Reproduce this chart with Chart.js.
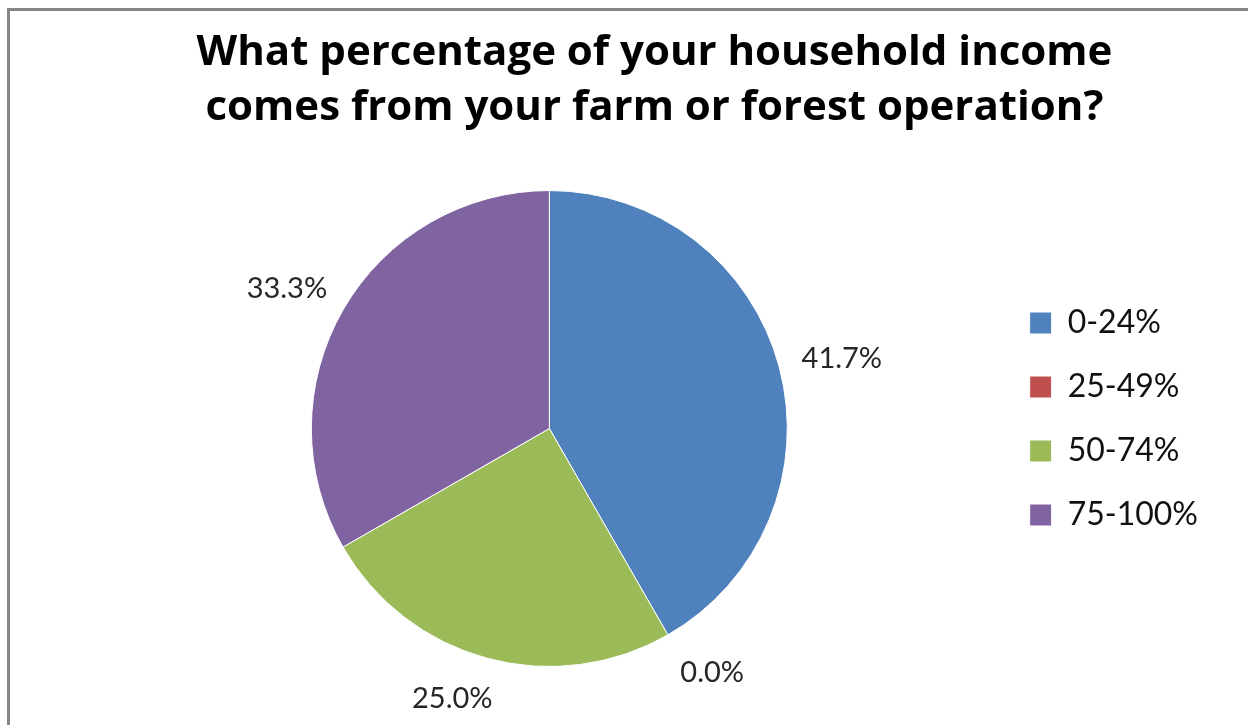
<!DOCTYPE html>
<html>
<head>
<meta charset="utf-8">
<title>Household income from farm or forest</title>
<script src="https://cdn.jsdelivr.net/npm/chart.js@4"></script>
<style>
  html, body { margin: 0; padding: 0; background: #fff; overflow: hidden; }
  #wrap { position: relative; width: 1248px; height: 725px; overflow: hidden; }
  #frame {
    position: absolute; left: 7px; top: 8px; width: 1400px; height: 900px;
    border-top: 3px solid #858585; border-left: 3px solid #858585;
    pointer-events: none;
  }
  #incomeChart { position: absolute; left: 0; top: 0; }
</style>
</head>
<body>
<div id="wrap">
  <canvas id="incomeChart" width="1248" height="725"></canvas>
  <div id="frame"></div>
</div>
<script>
// 数据
const titleLines = ['What percentage of your household income', 'comes from your farm or forest operation?'];
const categories = ['0-24%', '25-49%', '50-74%', '75-100%'];
const shares = [41.7, 0.0, 25.0, 33.3];
const sliceColors = ['#4F81BD', '#C0504D', '#9BBB59', '#8064A2'];

Chart.defaults.font.family = 'Lato, "Open Sans", sans-serif';
Chart.defaults.color = '#1a1a1a';

const clamp1 = v => Math.max(-1, Math.min(1, v));

// 扇区外侧的百分比标签：靠近饼图的一角贴在扇区中线方向上
const outsideLabels = {
  id: 'outsideLabels',
  afterDatasetsDraw(chart) {
    const { ctx } = chart;
    const meta = chart.getDatasetMeta(0);
    const gap = 21;
    const h = 30;
    ctx.save();
    ctx.font = '29px Lato, "Open Sans", sans-serif';
    ctx.fillStyle = '#262626';
    ctx.textAlign = 'center';
    ctx.textBaseline = 'middle';
    meta.data.forEach((arc, i) => {
      const p = arc.getProps(['x', 'y', 'startAngle', 'endAngle', 'outerRadius'], true);
      const mid = (p.startAngle + p.endAngle) / 2;
      const cos = Math.cos(mid), sin = Math.sin(mid);
      const text = shares[i].toFixed(1) + '%';
      const w = ctx.measureText(text).width;
      const d = p.outerRadius + gap;
      const ax = p.x + cos * d, ay = p.y + sin * d;
      ctx.fillText(text, ax + clamp1(cos * 3) * w / 2 + 2, ay + clamp1(sin * 2) * h / 2 + 5);
    });
    ctx.restore();
  }
};

// 图例整体下移，与饼图中部对齐
const legendOffset = {
  id: 'legendOffset',
  afterLayout(chart) {
    const lg = chart.legend;
    const h = lg.bottom - lg.top;
    lg.top = 275;
    lg.bottom = 275 + h;
  }
};

new Chart(document.getElementById('incomeChart'), {
  type: 'pie',
  data: {
    labels: categories,
    datasets: [{
      data: shares,
      backgroundColor: sliceColors,
      borderColor: '#ffffff',
      borderWidth: 1
    }]
  },
  options: {
    responsive: false,
    animation: false,
    layout: { padding: { left: 101, right: 40, top: 0, bottom: 58 } },
    plugins: {
      title: {
        display: true,
        text: titleLines,
        color: '#000',
        font: { family: '"Open Sans", Lato, sans-serif', size: 42, weight: 'bold', lineHeight: 1.31 },
        padding: { top: 26, bottom: 54 }
      },
      legend: {
        position: 'right',
        align: 'start',
        labels: {
          boxWidth: 22,
          boxHeight: 22,
          padding: 32,
          color: '#111',
          font: { size: 32 }
        }
      },
      tooltip: { enabled: false }
    }
  },
  plugins: [outsideLabels, legendOffset]
});
</script>
</body>
</html>
